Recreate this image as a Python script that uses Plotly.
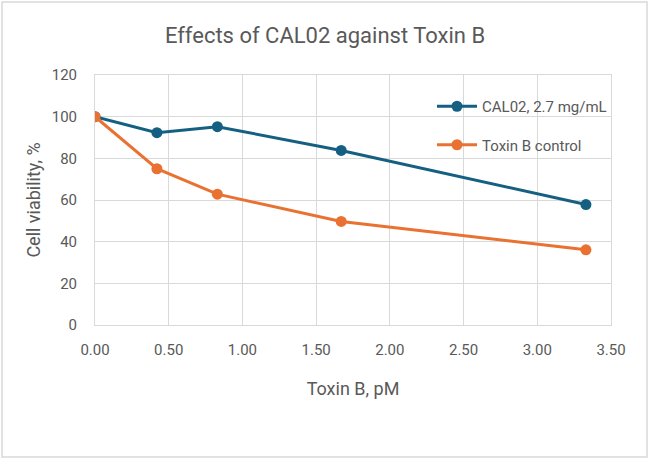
import plotly.graph_objects as go

toxin_b_pm = [0.0, 0.42, 0.83, 1.67, 3.33]
cal02_viability = [100, 92.3, 95.2, 83.8, 57.8]
toxin_control_viability = [100, 75.0, 62.8, 49.7, 36.1]
series_names = ["CAL02, 2.7 mg/mL", "Toxin B control"]

BLUE = "#156082"
ORANGE = "#E97132"
TEXT = "#595959"
GRID = "#D9D9D9"
FONT = "Roboto"

fig = go.Figure()
fig.add_trace(go.Scatter(
    x=toxin_b_pm, y=cal02_viability, name=series_names[0], mode="lines+markers",
    line=dict(color=BLUE, width=3), marker=dict(size=11, color=BLUE),
    legendgroup="a"))
fig.add_trace(go.Scatter(
    x=toxin_b_pm, y=toxin_control_viability, name=series_names[1], mode="lines+markers",
    line=dict(color=ORANGE, width=3), marker=dict(size=11, color=ORANGE),
    legendgroup="b"))

L, R, T, B = 95, 39, 75, 136
W, H = 650, 461
pw, ph = W - L - R, H - T - B

fig.update_layout(
    width=W, height=H,
    margin=dict(l=L, r=R, t=T, b=B),
    paper_bgcolor="white", plot_bgcolor="white",
    font=dict(family=FONT, color=TEXT, size=15),
    title=dict(text="Effects of CAL02 against Toxin B", x=0.5, xanchor="center",
               y=1 - 35 / H, yanchor="middle",
               font=dict(size=22, color=TEXT, family=FONT)),
    legend=dict(x=(432 - L) / pw, y=(H - B - 90) / ph, xanchor="left", yanchor="top",
                bgcolor="rgba(0,0,0,0)", tracegroupgap=16, itemwidth=40,
                font=dict(size=15, color=TEXT, family=FONT)),
    showlegend=True,
    xaxis=dict(range=[0, 3.5], dtick=0.5, tick0=0, tickformat=".2f",
               showgrid=True, gridcolor=GRID, gridwidth=1,
               showline=True, linecolor=GRID, linewidth=1, mirror=True,
               zeroline=False, ticks="", ticklen=0, ticklabelstandoff=11,
               title=dict(text="Toxin B, pM", font=dict(size=18, color=TEXT), standoff=24),
               tickfont=dict(size=15, color=TEXT)),
    yaxis=dict(range=[0, 120], dtick=20, tick0=0,
               showgrid=True, gridcolor=GRID, gridwidth=1,
               showline=True, linecolor=GRID, linewidth=1, mirror=True,
               zeroline=False, ticks="", ticklen=0, ticklabelstandoff=14,
               title=dict(text="Cell viability, %", font=dict(size=18, color=TEXT), standoff=6),
               tickfont=dict(size=15, color=TEXT)),
)

# outer chart border
fig.add_shape(type="rect", xref="paper", yref="paper",
              x0=(2 - L) / pw, x1=(647 - L) / pw,
              y0=(H - B - 457) / ph, y1=(H - B - 2) / ph,
              line=dict(color="#D9D9D9", width=1.5), fillcolor="rgba(0,0,0,0)", layer="below")

fig.write_html("out.html")
